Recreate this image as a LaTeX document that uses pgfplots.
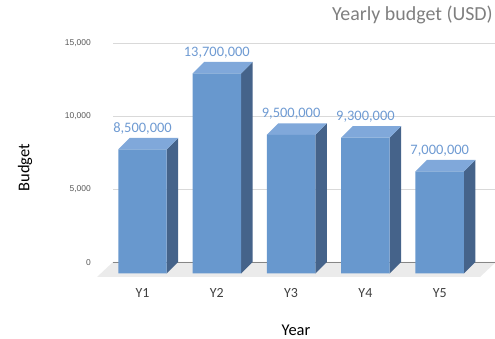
\documentclass[border=0pt]{standalone}
\usepackage{pgfplots}
\usepackage{pgfplotstable}
\pgfplotsset{compat=1.18}
\usepackage{fontspec}
\setmainfont{Carlito}
\newfontfamily\arialf{Liberation Sans}
\definecolor{frontc}{HTML}{6898CE}
\definecolor{topc}{HTML}{80A8DA}
\definecolor{sidec}{HTML}{45638A}
\definecolor{labc}{HTML}{6E9AD2}
\definecolor{gridc}{HTML}{D9D9D9}
\definecolor{floorc}{HTML}{EBEBEB}
\definecolor{titlec}{HTML}{7F7F7F}
\definecolor{tickc}{HTML}{595959}
\definecolor{catc}{HTML}{404040}
\definecolor{zeroc}{HTML}{868686}

\pgfplotstableread{
x v label
0 8500 8,500,000
1 13700 13,700,000
2 9500 9,500,000
3 9300 9,300,000
4 7000 7,000,000
}\budget

\begin{document}
\begin{tikzpicture}
\useasboundingbox (0,0) rectangle (495bp,339bp);
\begin{axis}[
  at={(113bp,77bp)}, anchor=south west,
  scale only axis, width=382bp, height=219bp,
  xmin=-0.397, xmax=4.744, ymin=0, ymax=15000,
  clip=false,
  axis lines*=left, axis line style={draw=none},
  major tick length=0pt,
  ytick={0,5000,10000,15000},
  scaled y ticks=false,
  /pgf/number format/.cd, 1000 sep={,}, assume math mode=true, fixed,
  /pgfplots/.cd,
  ymajorgrids, grid style={color=gridc, line width=0.75bp},
  xtick={0,1,2,3,4}, xticklabels={Y1,Y2,Y3,Y4,Y5},
  yticklabel style={anchor=base east, inner sep=0pt, xshift=-22bp, yshift=-3bp,
    font=\arialf\fontsize{8.5}{10}\selectfont, text=tickc},
  xticklabel style={anchor=base, inner sep=0pt, yshift=-35bp,
    font=\fontsize{14}{16}\selectfont, text=catc},
  xlabel={Year},
  xlabel style={at={(axis description cs:0.479,0)}, anchor=base, inner sep=0pt, yshift=-73bp,
    font=\fontsize{16.5}{19}\selectfont, text=black},
  ylabel={Budget},
  ylabel style={at={(axis description cs:-0.2304,0.43)}, anchor=center, inner sep=0pt,
    font=\fontsize{16.5}{19}\selectfont, text=black},
]
% floor
\addplot[fill=floorc, draw=none] coordinates {(-0.397,0) (4.757,0) (4.542,-1027) (-0.612,-1027)} -- cycle;
% zero line
\addplot[draw=zeroc, line width=0.75bp] coordinates {(-0.397,0) (4.744,0)};
% side faces
\addplot[fill=sidec, draw=none] coordinates {(0.326,-788) (0.481,0) (0.481,8500) (0.326,7712)} -- cycle;
\addplot[fill=sidec, draw=none] coordinates {(1.326,-788) (1.481,0) (1.481,13700) (1.326,12912)} -- cycle;
\addplot[fill=sidec, draw=none] coordinates {(2.326,-788) (2.481,0) (2.481,9500) (2.326,8712)} -- cycle;
\addplot[fill=sidec, draw=none] coordinates {(3.326,-788) (3.481,0) (3.481,9300) (3.326,8512)} -- cycle;
\addplot[fill=sidec, draw=none] coordinates {(4.326,-788) (4.481,0) (4.481,7000) (4.326,6212)} -- cycle;
% top faces
\addplot[fill=topc, draw=none] coordinates {(-0.326,7712) (0.326,7712) (0.481,8500) (-0.171,8500)} -- cycle;
\addplot[fill=topc, draw=none] coordinates {(0.674,12912) (1.326,12912) (1.481,13700) (0.829,13700)} -- cycle;
\addplot[fill=topc, draw=none] coordinates {(1.674,8712) (2.326,8712) (2.481,9500) (1.829,9500)} -- cycle;
\addplot[fill=topc, draw=none] coordinates {(2.674,8512) (3.326,8512) (3.481,9300) (2.829,9300)} -- cycle;
\addplot[fill=topc, draw=none] coordinates {(3.674,6212) (4.326,6212) (4.481,7000) (3.829,7000)} -- cycle;
% front faces
\addplot[ybar, bar width=0.652, bar shift=0pt, fill=frontc, draw=none, yshift=-11.5bp]
  table[x=x, y=v] {\budget};
% data labels
\addplot[draw=none, mark=none, nodes near coords, point meta=explicit symbolic,
  every node near coord/.style={anchor=center, yshift=9.5bp, inner sep=0pt,
    font=\fontsize{14.5}{17}\selectfont, text=labc}]
  table[x=x, y=v, meta=label] {\budget};
\end{axis}
\node[anchor=base east, inner sep=0pt, font=\fontsize{20}{24}\selectfont, text=titlec]
  at (493bp,318bp) {Yearly budget (USD)};
\end{tikzpicture}
\end{document}
